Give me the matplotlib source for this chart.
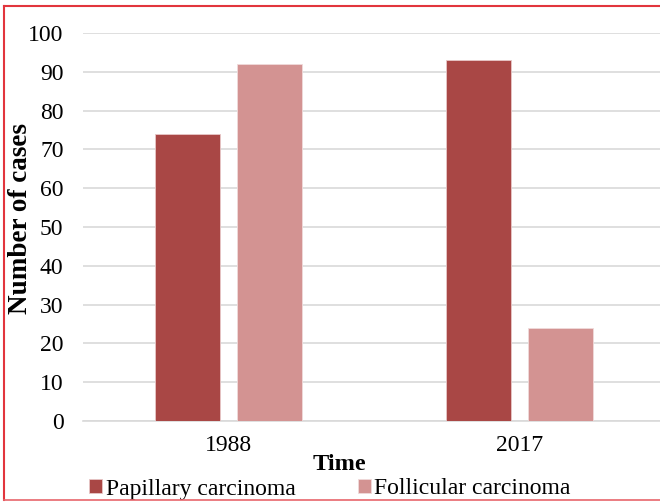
import matplotlib.pyplot as plt
import numpy as np
from matplotlib.lines import Line2D

years = ["1988", "2017"]
papillary = [74, 93]
follicular = [92, 24]

plt.rcParams['font.family'] = ['Liberation Serif', 'DejaVu Serif']

fig = plt.figure(figsize=(6.6, 5.03), dpi=100)
ax = fig.add_axes([83 / 660, 82 / 503, 582 / 660, 388 / 503])

x = np.arange(len(years))
w = 0.224
off = 0.141
ax.bar(x - off, papillary, w, color='#A94745', edgecolor='#E8C8C8', linewidth=0.6,
       label='Papillary carcinoma', zorder=3)
ax.bar(x + off, follicular, w, color='#D39392', edgecolor='#F0DADA', linewidth=0.6,
       label='Follicular carcinoma', zorder=3)

ax.set_xlim(-0.5, 1.5)
ax.set_ylim(0, 100)
ax.set_yticks(range(0, 101, 10))
ax.set_xticks(x)
ax.set_xticklabels(years)
ax.tick_params(axis='both', length=0, labelsize=17)
ax.tick_params(axis='x', pad=10)
ax.tick_params(axis='y', pad=14)

ax.grid(axis='y', color='#D9D9D9', linewidth=1.2, zorder=0)
for s in ['top', 'right', 'left']:
    ax.spines[s].set_visible(False)
ax.spines['bottom'].set_color('#D9D9D9')
ax.spines['bottom'].set_linewidth(1.2)

fig.text(339 / 660, 1 - 464 / 503, 'Time', fontsize=17.5, fontweight='bold',
         ha='center', va='center')
fig.text(21 / 660, 1 - 219 / 503, 'Number of cases', fontsize=19.5, fontweight='bold',
         rotation=90, ha='center', va='center')

ax.legend(loc='center left', bbox_to_anchor=(89 / 660, 1 - 489 / 503),
          bbox_transform=fig.transFigure, ncol=2, frameon=False, fontsize=17,
          handlelength=0.55, handleheight=0.55, handletextpad=0.15,
          columnspacing=2.65, borderaxespad=0, borderpad=0)

# red frame on left, top and bottom
red = '#E2353D'
fig.add_artist(Line2D([4 / 660, 4 / 660], [1 - 500 / 503, 1 - 6 / 503], color=red, lw=1.5,
                      transform=fig.transFigure))
fig.add_artist(Line2D([4 / 660, 1], [1 - 6 / 503, 1 - 6 / 503], color=red, lw=1.5,
                      transform=fig.transFigure))
fig.add_artist(Line2D([4 / 660, 1], [1 - 500 / 503, 1 - 500 / 503], color='#E8666C', lw=1.2,
                      transform=fig.transFigure))

fig.savefig('out.png', dpi=100)
